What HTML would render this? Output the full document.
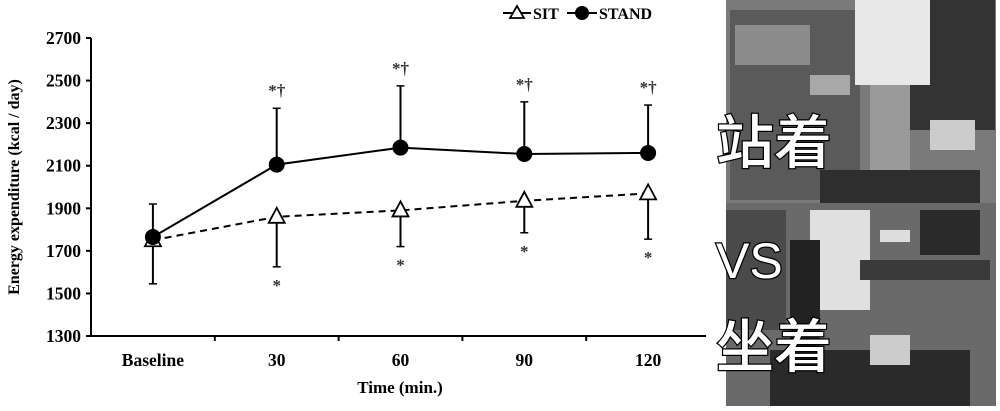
<!DOCTYPE html>
<html><head><meta charset="utf-8"><style>
body{margin:0;background:#fff;width:1000px;height:406px;overflow:hidden;font-family:"Liberation Serif",serif}
svg text{font-family:"Liberation Serif",serif;font-weight:bold}
.cjk{font-family:"Noto Sans CJK SC",sans-serif;font-weight:500}
</style></head><body>
<svg width="1000" height="406" id="svg">
<g>
<rect x="726" y="0" width="270" height="203" fill="#7a7a7a"/>
<rect x="730" y="10" width="130" height="190" fill="#5a5a5a"/>
<rect x="735" y="25" width="75" height="40" fill="#8c8c8c"/>
<rect x="810" y="75" width="40" height="20" fill="#a8a8a8"/>
<rect x="885" y="0" width="110" height="130" fill="#333"/>
<rect x="855" y="0" width="75" height="85" fill="#e8e8e8"/>
<rect x="870" y="85" width="40" height="110" fill="#9a9a9a"/>
<rect x="820" y="170" width="160" height="33" fill="#2e2e2e"/>
<rect x="930" y="120" width="45" height="30" fill="#ccc"/>
<rect x="726" y="203" width="270" height="203" fill="#6a6a6a"/>
<rect x="726" y="210" width="60" height="120" fill="#4a4a4a"/>
<rect x="810" y="210" width="60" height="100" fill="#e0e0e0"/>
<rect x="790" y="240" width="30" height="110" fill="#222"/>
<rect x="860" y="260" width="130" height="20" fill="#3a3a3a"/>
<rect x="920" y="210" width="60" height="45" fill="#2a2a2a"/>
<rect x="880" y="230" width="30" height="12" fill="#ddd"/>
<rect x="770" y="350" width="200" height="56" fill="#2a2a2a"/>
<rect x="870" y="335" width="40" height="30" fill="#ccc"/>
</g>
<g fill="#fff" stroke="#000" stroke-width="2.5" paint-order="stroke" font-size="58">
<text class="cjk" x="716" y="163">站着</text>
<text x="716" y="278" style="font-family:'Liberation Sans',sans-serif;font-weight:normal" font-size="50">VS</text>
<text class="cjk" x="716" y="367">坐着</text>
</g>
<g id="plot"></g>
</svg>
<script>
const categories=["Baseline","30","60","90","120"];
const standVals=[1765,2105,2185,2155,2160];
const standUpper=[1920,2370,2475,2400,2385];
const sitVals=[1750,1860,1890,1935,1970];
const sitLower=[1545,1625,1720,1785,1755];
const yTicks=[1300,1500,1700,1900,2100,2300,2500,2700];
const standMarks=["*†","*†","*†","*†"];
const sitMarks=["*","*","*","*"];
const NS="http://www.w3.org/2000/svg";
const g=document.getElementById('plot');
const x0=91,x1=710,yTop=38,yBot=336;
const y=v=>yBot-(v-1300)/(1400)*(yBot-yTop);
const bw=(x1-x0)/categories.length;
const x=i=>x0+bw*(i+0.5);
function mk(t,a,p){const e=document.createElementNS(NS,t);for(const k in a)e.setAttribute(k,a[k]);(p||g).appendChild(e);return e;}
let e;
e=mk('line',{x1:x0,y1:yTop,x2:x0,y2:yBot,stroke:'#000','stroke-width':2});


e=mk('line',{x1:x0,y1:yBot,x2:x1-4,y2:yBot,stroke:'#000','stroke-width':2});


yTicks.forEach(v=>{
 mk('line',{x1:x0-5,y1:y(v),x2:x0,y2:y(v),stroke:'#000','stroke-width':2});
 e=mk('text',{x:x0-10,y:y(v)+6,'text-anchor':'end','font-size':17.5});e.textContent=v;
 
 
});
for(let i=1;i<categories.length;i++)mk('line',{x1:x0+bw*i,y1:yBot,x2:x0+bw*i,y2:yBot+5,stroke:'#000','stroke-width':2});
categories.forEach((c,i)=>{e=mk('text',{x:x(i),y:yBot+30,'text-anchor':'middle','font-size':17.5});e.textContent=c;
 
 });
e=mk('text',{x:400,y:393,'text-anchor':'middle','font-size':17});e.textContent='Time (min.)';


e=mk('text',{x:0,y:0,'text-anchor':'middle','font-size':16,transform:`translate(19,${(yTop+yBot)/2}) rotate(-90)`});e.textContent='Energy expenditure (kcal / day)';


standVals.forEach((v,i)=>{e=mk('line',{x1:x(i),y1:y(v),x2:x(i),y2:y(standUpper[i]),stroke:'#000','stroke-width':2});
 
 
 mk('line',{x1:x(i)-4,y1:y(standUpper[i]),x2:x(i)+4,y2:y(standUpper[i]),stroke:'#000','stroke-width':1.5});});
sitVals.forEach((v,i)=>{e=mk('line',{x1:x(i),y1:y(v),x2:x(i),y2:y(sitLower[i]),stroke:'#000','stroke-width':2});
 
 
 mk('line',{x1:x(i)-4,y1:y(sitLower[i]),x2:x(i)+4,y2:y(sitLower[i]),stroke:'#000','stroke-width':1.5});});
e=mk('polyline',{points:sitVals.map((v,i)=>x(i)+','+y(v)).join(' '),fill:'none',stroke:'#000','stroke-width':2,'stroke-dasharray':'7,5'});


e=mk('polyline',{points:standVals.map((v,i)=>x(i)+','+y(v)).join(' '),fill:'none',stroke:'#000','stroke-width':2});


sitVals.forEach((v,i)=>{const cx=x(i),cy=y(v);
 e=mk('polygon',{points:`${cx},${cy-9} ${cx-8},${cy+6} ${cx+8},${cy+6}`,fill:'#fff',stroke:'#000','stroke-width':1.8});
 
 });
standVals.forEach((v,i)=>{
 e=mk('circle',{cx:x(i),cy:y(v),r:8,fill:'#000'});
 
 });
standMarks.forEach((m,i)=>{e=mk('text',{x:x(i+1),y:y(standUpper[i+1])-12,'text-anchor':'middle','font-size':17,fill:'#333'});e.textContent=m;
 
 });
sitMarks.forEach((m,i)=>{e=mk('text',{x:x(i+1),y:y(sitLower[i+1])+24,'text-anchor':'middle','font-size':17,fill:'#333'});e.textContent=m;
 
 });
const lg=mk('g',{});


mk('line',{x1:503,y1:13,x2:531,y2:13,stroke:'#000','stroke-width':2},lg);
mk('polygon',{points:'517,6 510,18 524,18',fill:'#fff',stroke:'#000','stroke-width':1.8},lg);
e=mk('text',{x:533,y:19,'font-size':16},lg);e.textContent='SIT';
mk('line',{x1:567,y1:13,x2:597,y2:13,stroke:'#000','stroke-width':2},lg);
mk('circle',{cx:582,cy:13,r:7,fill:'#000'},lg);
e=mk('text',{x:599,y:19,'font-size':16},lg);e.textContent='STAND';
</script>
</body></html>
